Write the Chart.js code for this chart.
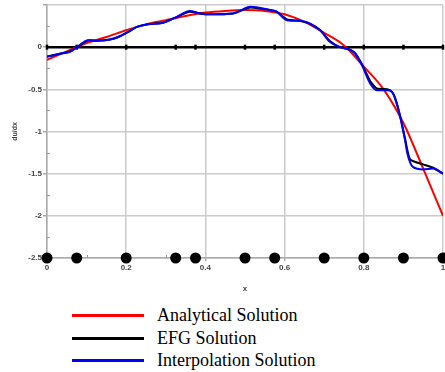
<!DOCTYPE html>
<html>
<head>
<meta charset="utf-8">
<script src="https://cdn.jsdelivr.net/npm/chart.js@4.4.1/dist/chart.umd.min.js"></script>
<style>
  html, body { margin: 0; padding: 0; background: #fff; }
  #wrap { position: relative; width: 445px; height: 372px; }
  #plot { position: absolute; left: 0; top: 0; width: 445px; height: 300px; }
  #legend { position: absolute; left: 0; top: 304px; width: 445px; }
  .row { position: absolute; left: 0; height: 23px; display: flex; align-items: center; }
  .swatch { margin-left: 72px; width: 72px; height: 3px; }
  .label { margin-left: 13px; font-family: "Liberation Serif", "Times New Roman", serif; font-size: 18px; color: #000; white-space: nowrap; }
</style>
</head>
<body>
<div id="wrap">
  <div id="plot"><canvas id="chart" width="445" height="300"></canvas></div>
  <div id="legend"></div>
</div>
<script>
// exact derivative
const analyticX = [0, 0.05, 0.1, 0.15, 0.2, 0.25, 0.3, 0.35, 0.4, 0.45, 0.5, 0.55, 0.6, 0.65, 0.7, 0.75, 0.8, 0.85, 0.9, 0.95, 1.0];
const analyticY = [-0.15, -0.05, 0.05, 0.12, 0.2, 0.27, 0.32, 0.37, 0.41, 0.43, 0.44, 0.43, 0.39, 0.3, 0.17, 0.02, -0.23, -0.5, -0.9, -1.44, -2.0];

// EFG derivative
const efgX = [0, 0.03, 0.058, 0.076, 0.104, 0.126, 0.159, 0.18, 0.205, 0.227, 0.252, 0.293, 0.328, 0.36, 0.386, 0.41, 0.47, 0.505, 0.513, 0.563, 0.58, 0.606, 0.64, 0.664, 0.69, 0.715, 0.74, 0.765, 0.778, 0.795, 0.816, 0.833, 0.859, 0.871, 0.879, 0.891, 0.904, 0.917, 0.95, 0.975, 1.0];
const efgY = [-0.11, -0.08, -0.05, 0.0, 0.08, 0.075, 0.09, 0.12, 0.18, 0.24, 0.27, 0.29, 0.36, 0.42, 0.4, 0.39, 0.4, 0.46, 0.47, 0.44, 0.42, 0.33, 0.31, 0.28, 0.2, 0.07, 0.0, -0.03, -0.07, -0.2, -0.4, -0.49, -0.5, -0.53, -0.6, -0.8, -1.08, -1.33, -1.39, -1.43, -1.5];

// interpolated derivative
const interpX = [0, 0.03, 0.058, 0.076, 0.104, 0.126, 0.159, 0.18, 0.205, 0.227, 0.252, 0.293, 0.328, 0.36, 0.386, 0.41, 0.47, 0.505, 0.513, 0.563, 0.58, 0.606, 0.64, 0.664, 0.69, 0.715, 0.74, 0.765, 0.778, 0.795, 0.816, 0.833, 0.859, 0.871, 0.879, 0.891, 0.904, 0.91, 0.924, 0.95, 0.975, 1.0];
const interpY = [-0.115, -0.08, -0.055, 0.0, 0.083, 0.075, 0.09, 0.12, 0.18, 0.24, 0.27, 0.29, 0.36, 0.43, 0.4, 0.39, 0.4, 0.47, 0.48, 0.44, 0.42, 0.32, 0.31, 0.28, 0.2, 0.06, 0.0, -0.03, -0.075, -0.21, -0.43, -0.51, -0.51, -0.53, -0.61, -0.81, -1.1, -1.26, -1.42, -1.45, -1.44, -1.5];

// nodes
const nodeX = [0, 0.075, 0.2, 0.325, 0.375, 0.5, 0.575, 0.7, 0.8, 0.9, 1.0];

const seriesLabels = ["Analytical Solution", "EFG Solution", "Interpolation Solution"];
const seriesColors = ["#ff0000", "#000000", "#0000ff"];

const pts = (xs, ys) => xs.map((x, i) => ({ x: x, y: ys[i] }));
const fmt = (v) => String(Number(v.toFixed(2)));

// short inward minor ticks
const minorTicks = {
  id: "minorTicks",
  beforeDatasetsDraw(chart) {
    const { ctx, chartArea, scales } = chart;
    ctx.save();
    ctx.strokeStyle = "#9a9a9a";
    ctx.lineWidth = 1;
    ctx.beginPath();
    for (let v = -2.25; v < 0.5; v += 0.5) {
      const y = Math.round(scales.y.getPixelForValue(v)) + 0.5;
      ctx.moveTo(chartArea.left, y);
      ctx.lineTo(chartArea.left + 3, y);
    }
    for (let v = 0.1; v < 1; v += 0.2) {
      const x = Math.round(scales.x.getPixelForValue(v)) + 0.5;
      ctx.moveTo(x, chartArea.bottom);
      ctx.lineTo(x, chartArea.bottom - 3);
    }
    ctx.stroke();
    ctx.restore();
  },
};

const tickFont = { family: "'Liberation Sans', Arial, sans-serif", size: 8, weight: "bold" };

new Chart(document.getElementById("chart"), {
  type: "scatter",
  data: {
    datasets: [
      {
        label: "nodes",
        data: nodeX.map((x) => ({ x: x, y: -2.5 })),
        showLine: false,
        pointRadius: 5.5,
        pointBackgroundColor: "#000",
        pointBorderWidth: 0,
        clip: false,
        order: 0,
      },
      {
        label: seriesLabels[2],
        data: pts(interpX, interpY),
        showLine: true,
        borderColor: seriesColors[2],
        borderWidth: 2,
        cubicInterpolationMode: "monotone",
        pointRadius: 0,
        order: 1,
      },
      {
        label: seriesLabels[1],
        data: pts(efgX, efgY),
        showLine: true,
        borderColor: seriesColors[1],
        borderWidth: 2,
        tension: 0.2,
        pointRadius: 0,
        order: 2,
      },
      {
        label: seriesLabels[0],
        data: pts(analyticX, analyticY),
        showLine: true,
        borderColor: seriesColors[0],
        borderWidth: 2,
        cubicInterpolationMode: "monotone",
        pointRadius: 0,
        order: 3,
      },
      {
        label: "zero",
        data: nodeX.map((x) => ({ x: x, y: 0 })),
        showLine: true,
        borderColor: "#000",
        borderWidth: 2.5,
        pointStyle: "line",
        rotation: 90,
        pointRadius: 2.5,
        pointBorderWidth: 2.5,
        pointBorderColor: "#000",
        clip: false,
        order: 4,
      },
    ],
  },
  options: {
    responsive: false,
    animation: false,
    layout: { autoPadding: false, padding: { top: 5, right: 0, left: 0, bottom: 0 } },
    plugins: { legend: { display: false }, tooltip: { enabled: false } },
    scales: {
      x: {
        type: "linear",
        min: 0,
        max: 1,
        ticks: { stepSize: 0.2, font: tickFont, color: "#444", padding: 2, maxRotation: 0, callback: (v) => fmt(v) },
        grid: { color: "#cccccc", lineWidth: 1.5, tickLength: 3, tickColor: "#aaaaaa" },
        border: { color: "#aaaaaa", width: 1.5 },
        title: { display: true, text: "x", font: tickFont, color: "#444", padding: { top: 0, bottom: 6 } },
        afterFit: (scale) => {
          scale.height = 42;
          scale.paddingLeft = 0;
          scale.paddingRight = 2;
        },
      },
      y: {
        min: -2.5,
        max: 0.5,
        ticks: {
          stepSize: 0.5,
          font: tickFont,
          color: "#444",
          padding: 1,
          callback: (v) => (v > 0 ? "" : fmt(v)),
        },
        grid: { color: "#cccccc", lineWidth: 1.5, tickLength: 4, tickColor: "#aaaaaa" },
        border: { color: "#aaaaaa", width: 1.5 },
        title: { display: true, text: "du/dx", font: { ...tickFont, size: 7 }, color: "#444", padding: { top: 11, bottom: 0 } },
        afterFit: (scale) => {
          scale.width = 47;
          scale.paddingTop = 0;
        },
      },
    },
  },
  plugins: [minorTicks],
});

// legend below the plot
const legend = document.getElementById("legend");
seriesLabels.forEach((name, i) => {
  const row = document.createElement("div");
  row.className = "row";
  row.style.top = (i * 22.6) + "px";
  const sw = document.createElement("span");
  sw.className = "swatch";
  sw.style.background = seriesColors[i];
  const tx = document.createElement("span");
  tx.className = "label";
  tx.textContent = name;
  row.appendChild(sw);
  row.appendChild(tx);
  legend.appendChild(row);
});
</script>
</body>
</html>
